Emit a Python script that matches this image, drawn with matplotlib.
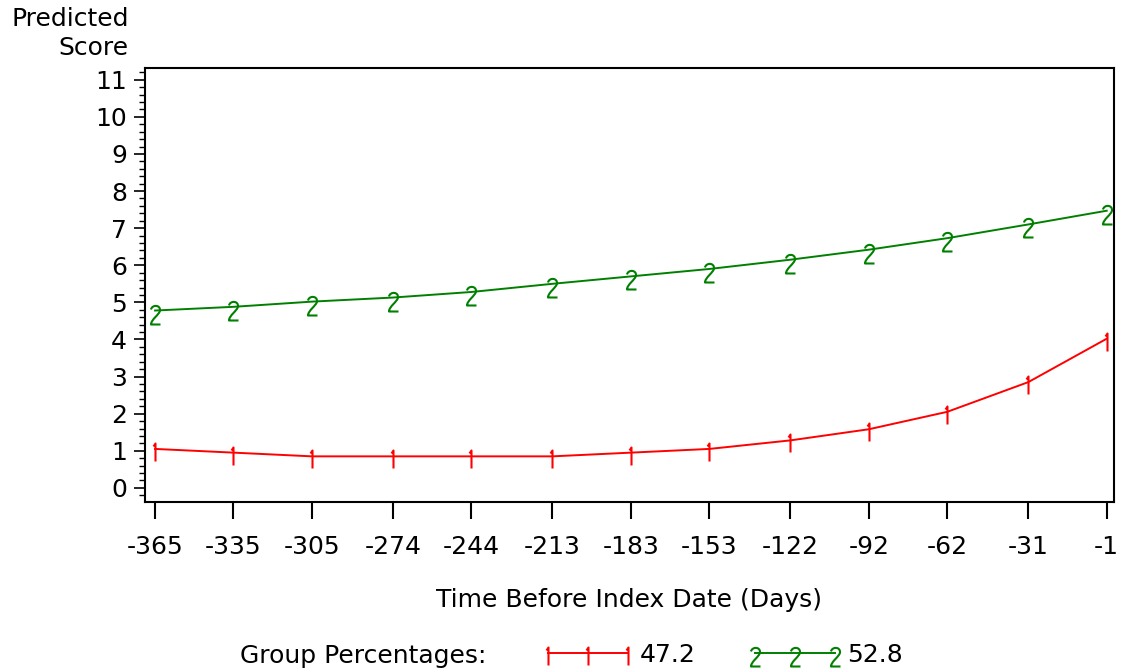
import numpy as np
import matplotlib.pyplot as plt
from matplotlib.path import Path
from matplotlib.ticker import MultipleLocator

days = [-365, -335, -305, -274, -244, -213, -183, -153, -122, -92, -62, -31, -1]
group1 = [1.05, 0.95, 0.85, 0.85, 0.85, 0.85, 0.95, 1.05, 1.28, 1.58, 2.05, 2.85, 4.02]
group2 = [4.78, 4.88, 5.02, 5.13, 5.28, 5.50, 5.70, 5.90, 6.15, 6.42, 6.73, 7.10, 7.47]
pct = ["47.2", "52.8"]

plt.rcParams['font.family'] = ['DejaVu Sans']
plt.rcParams['font.size'] = 18

# thin stroke "1" and "2" symbols like the SAS plot symbols (1 unit ~ 10 px)
one = Path([(0, -1.2), (0, 0.6), (-0.2, 0.3)],
           [Path.MOVETO, Path.LINETO, Path.LINETO])
two = Path([(-0.45, 0.2), (-0.35, 0.7), (0.5, 0.7), (0.45, 0.1),
            (0.4, -0.3), (-0.45, -0.8), (-0.45, -1.3), (0.5, -1.3)],
           [Path.MOVETO, Path.CURVE4, Path.CURVE4, Path.CURVE4,
            Path.CURVE4, Path.CURVE4, Path.CURVE4, Path.LINETO])
ms1 = 2 * 1.2 * 10 * 72 / 100
ms2 = 2 * 1.3 * 10 * 72 / 100

fig = plt.figure(figsize=(11.25, 6.72), dpi=100)
ax = fig.add_axes([0.129, 0.253, 0.861, 0.646])

ax.plot(days, group1, color="#FF0000", linewidth=1.4, marker=one, markersize=ms1,
        markerfacecolor="none", markeredgewidth=1.5, label=pct[0])
ax.plot(days, group2, color="#008000", linewidth=1.4, marker=two, markersize=ms2,
        markerfacecolor="none", markeredgewidth=1.5, label=pct[1])

ax.set_xticks(days)
ax.set_xticklabels([str(d) for d in days])
ax.yaxis.set_minor_locator(MultipleLocator(0.2))
ax.set_yticks(range(0, 12))
ax.set_yticklabels([str(v) for v in range(0, 12)])
ax.set_xlim(-368.8, 1.7)
ax.set_ylim(-0.38, 11.32)
ax.tick_params(axis="x", length=12, width=1.5, pad=12)
ax.tick_params(axis="y", which="major", length=8, width=1.2, pad=5)
ax.tick_params(axis="y", which="minor", length=4, width=1.0)
for s in ax.spines.values():
    s.set_linewidth(1.5)

fig.text(129 / 1125, 1 - 7 / 672, "Predicted\nScore", ha="right", va="top", linespacing=1.28)
fig.text(629 / 1125, 1 - 600 / 672, "Time Before Index Date (Days)", ha="center", va="center")
fig.text(240 / 1125, 1 - 656 / 672, "Group Percentages:", ha="left", va="center")
fig.legend(loc="center left", bbox_to_anchor=(540 / 1125, 1 - 655 / 672), ncol=2, frameon=False,
           numpoints=3, handlelength=3.8, handletextpad=0.2, columnspacing=2.05,
           borderaxespad=0, borderpad=0)

fig.savefig("out.png", dpi=100)
